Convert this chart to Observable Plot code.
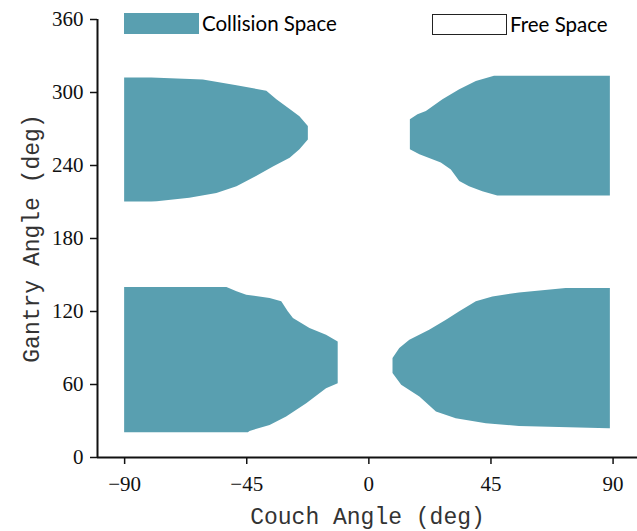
<!DOCTYPE html>
<html>
<head>
<meta charset="utf-8">
<script src="https://cdn.jsdelivr.net/npm/d3@7"></script>
<script src="https://cdn.jsdelivr.net/npm/@observablehq/plot@0.6"></script>
<style>
  body { margin: 0; background: #fff; }
  #wrap { position: relative; width: 637px; height: 531px; }
  .sw { position: absolute; box-sizing: border-box; }
  .lt { position: absolute; font-family: Lato, "Open Sans", sans-serif; font-size: 20.5px; color: #000; line-height: 22px; }
</style>
</head>
<body>
<div id="wrap">
  <div id="chart"></div>
  <div class="sw" id="swC" style="left:124px;top:13px;width:75px;height:21px;"></div>
  <div class="lt" id="ltC" style="left:202px;top:12px;"></div>
  <div class="sw" id="swF" style="left:432px;top:14px;width:75px;height:21px;border:1px solid #222;background:#fff;"></div>
  <div class="lt" id="ltF" style="left:510px;top:13px;"></div>
</div>
<script>
// ---- Data ----
const xTicks = [-90, -45, 0, 45, 90];
const yTicks = [0, 60, 120, 180, 240, 300, 360];
const xLabel = "Couch Angle (deg)";
const yLabel = "Gantry Angle (deg)";
const legendLabels = ["Collision Space", "Free Space"];
const collisionColor = "#599fb0";

// Top-left collision region: couch from -90 to edge, per gantry angle
const tlGantry = [210, 210.3, 213, 217, 222.6, 231, 239, 246, 253, 261, 272, 280, 286, 294, 301, 305.6, 310.3, 312];
const tlEdge   = [-80, -78, -66, -56, -48.6, -41.4, -35, -29, -25.4, -22.3, -22.3, -25.4, -29, -33.9, -37.6, -48.6, -61, -80];
// Top-right collision region: couch from edge to 89
const trGantry = [215, 218.5, 222.6, 226.8, 236.4, 242, 248.8, 253, 277.6, 281.7, 284.4, 294, 302.3, 309, 313.3];
const trEdge   = [47.5, 42, 37.1, 33.5, 30.4, 26.7, 18.8, 15.3, 15.3, 18.1, 21.2, 27.3, 33.5, 39.6, 46.3];
// Bottom-left collision region
const blGantry = [20.3, 21.4, 26.4, 33.2, 44.2, 56.6, 60.7, 95, 100.5, 106, 114.3, 119.8, 128, 130.7, 133.4, 136.2, 139.8];
const blEdge   = [-44.4, -43.8, -36.4, -30.3, -22.9, -15.6, -11.3, -11.3, -15.6, -21.7, -27.8, -29.7, -32.1, -36.4, -45, -48.6, -52.3];
// Bottom-right collision region
const brGantry = [23.6, 24.5, 25.5, 27.7, 31.8, 37.3, 49.7, 59.3, 69, 81.3, 89.5, 96.4, 104.6, 112.9, 119.8, 128, 132, 135.3, 139];
const brEdge   = [88.6, 73.9, 55.5, 43.3, 32.2, 24.9, 18.8, 12.1, 8.9, 8.9, 11.4, 15.1, 22.4, 28.6, 33.5, 39.6, 45.7, 55.5, 72.7];
const couchMin = -90, couchMax = 89;

// ---- Build table ----
const rows = [];
tlGantry.forEach((g, i) => rows.push({region: "TL", g, x1: couchMin, x2: tlEdge[i]}));
trGantry.forEach((g, i) => rows.push({region: "TR", g, x1: trEdge[i], x2: couchMax}));
blGantry.forEach((g, i) => rows.push({region: "BL", g, x1: couchMin, x2: blEdge[i]}));
brGantry.forEach((g, i) => rows.push({region: "BR", g, x1: brEdge[i], x2: couchMax}));

const serif = "Liberation Serif";
const mono = "Liberation Mono";

const chart = Plot.plot({
  width: 637,
  height: 531,
  marginTop: 19,
  marginBottom: 74,
  marginLeft: 97,
  marginRight: 0,
  style: {fontFamily: serif, fontSize: "21px", color: "#111", background: "#fff"},
  x: {domain: [-100, 99]},
  y: {domain: [0, 360]},
  marks: [
    Plot.areaX(rows, {y: "g", x1: "x1", x2: "x2", z: "region", fill: collisionColor, curve: "linear"}),
    Plot.axisX({ticks: xTicks, tickSize: 7, tickPadding: 12, label: null, tickFormat: d => d < 0 ? "\u2212" + Math.abs(d) : String(d), strokeWidth: 1.5}),
    Plot.axisY({ticks: yTicks, tickSize: 7, tickPadding: 7, label: null, strokeWidth: 1.5}),
    Plot.ruleY([0], {stroke: "#111", strokeWidth: 2}),
    Plot.ruleX([-100], {stroke: "#111", strokeWidth: 2}),
    Plot.text([xLabel], {frameAnchor: "bottom", lineAnchor: "middle", dy: 59, fontFamily: mono, fontSize: 23, fill: "#333"}),
    Plot.text([yLabel], {frameAnchor: "left", lineAnchor: "middle", textAnchor: "middle", rotate: -90, dx: -66, fontFamily: mono, fontSize: 23, fill: "#333"})
  ]
});
d3.select(chart).selectAll("g[aria-label$='tick label']")
  .attr("font-family", serif).attr("font-size", 21).attr("fill", "#111");
d3.select(chart).selectAll("g[aria-label$='tick label'] text")
  .attr("font-family", serif).attr("font-size", 21);
document.getElementById("chart").append(chart);
document.getElementById("swC").style.background = collisionColor;
document.getElementById("ltC").textContent = legendLabels[0];
document.getElementById("ltF").textContent = legendLabels[1];
</script>
</body>
</html>
